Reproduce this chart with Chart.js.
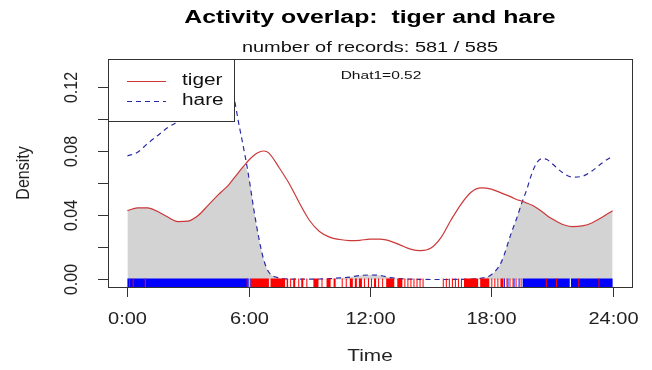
<!DOCTYPE html>
<html>
<head>
<meta charset="utf-8">
<script src="https://cdn.jsdelivr.net/npm/chart.js@4"></script>
<style>
  body { margin: 0; background: #fff; }
  canvas { display: block; }
</style>
</head>
<body>
<canvas id="chart" width="652" height="370"></canvas>
<script>
// time of day (hours) shared by both density curves
const hours = [0, 0.5, 1, 1.5, 2, 2.5, 3, 3.5, 4, 4.5, 4.75, 5, 5.25, 5.5, 5.75, 6, 6.25, 6.5, 6.75, 7, 7.5, 8, 8.5, 9, 9.5, 10, 10.5, 11, 11.5, 12, 12.5, 13, 13.5, 14, 14.5, 15, 15.5, 16, 16.5, 17, 17.5, 18, 18.5, 19, 19.25, 19.5, 19.75, 20, 20.25, 20.5, 20.75, 21, 21.5, 22, 22.5, 23, 23.5, 24];

const tigerDensity = [0.043, 0.0448, 0.0448, 0.0425, 0.039, 0.0362, 0.0365, 0.040, 0.0465, 0.053, 0.056, 0.059, 0.063, 0.067, 0.0708, 0.0745, 0.0775, 0.0795, 0.0803, 0.079, 0.070, 0.060, 0.048, 0.037, 0.030, 0.0265, 0.025, 0.0243, 0.0245, 0.0252, 0.0252, 0.024, 0.0215, 0.019, 0.018, 0.0195, 0.026, 0.037, 0.047, 0.0545, 0.0572, 0.0565, 0.054, 0.0515, 0.050, 0.049, 0.0478, 0.0465, 0.0447, 0.0425, 0.040, 0.038, 0.0345, 0.033, 0.0335, 0.0355, 0.039, 0.043];

const hareDensity = [0.0772, 0.0795, 0.085, 0.090, 0.095, 0.099, 0.106, 0.114, 0.122, 0.1315, 0.1325, 0.129, 0.1155, 0.098, 0.082, 0.0645, 0.044, 0.026, 0.012, 0.0045, 0.001, 0.0003, 0.0002, 0.0002, 0.0003, 0.0005, 0.001, 0.0015, 0.0025, 0.0028, 0.0025, 0.0012, 0.0005, 0.0002, 0.0001, 0, 0, 0, 0.0001, 0.0003, 0.0008, 0.003, 0.011, 0.0295, 0.038, 0.0475, 0.056, 0.066, 0.073, 0.0755, 0.075, 0.0725, 0.067, 0.064, 0.0645, 0.068, 0.073, 0.0772];

const tigerRug = [[0.08, 0.12], [0.26, 0.3], [0.86, 0.92], [5.9, 5.95], [6.1, 7.0], [7.08, 7.8], [7.88, 7.95], [8.05, 8.1], [8.2, 8.3], [8.45, 8.5], [8.6, 8.7], [8.85, 8.9], [9.2, 9.45], [9.6, 9.65], [9.85, 10.05], [10.2, 10.3], [10.6, 10.65], [10.8, 10.85], [11.0, 11.15], [11.25, 11.35], [11.45, 11.6], [11.7, 11.75], [11.9, 11.95], [12.05, 12.1], [12.2, 12.3], [12.4, 12.45], [12.6, 12.65], [12.8, 13.2], [13.35, 13.6], [13.7, 13.75], [13.85, 13.9], [14.0, 14.05], [14.15, 14.2], [14.3, 14.35], [14.45, 14.5], [14.6, 14.65], [15.6, 15.65], [15.75, 15.8], [15.9, 15.95], [16.05, 16.1], [16.2, 16.25], [16.35, 16.4], [16.5, 16.55], [16.65, 17.35], [17.45, 17.9], [18.0, 18.05], [18.15, 18.2], [18.3, 18.35], [18.45, 18.6], [18.75, 18.78], [18.9, 18.93], [19.05, 19.08], [19.2, 19.25], [19.45, 19.48], [20.7, 20.73], [21.2, 21.23], [22.3, 22.33], [23.3, 23.33]];
const hareRug = [[0, 6.0], [6.05, 6.08], [11.9, 11.93], [13.0, 13.03], [17.2, 17.23], [18.62, 18.66], [18.8, 18.83], [19.1, 19.15], [19.35, 19.4], [19.55, 21.88], [21.94, 24.0]];

const xTicks = [0, 6, 12, 18, 24];
const xTickLabels = ['0:00', '6:00', '12:00', '18:00', '24:00'];
const yTicks = [0, 0.02, 0.04, 0.06, 0.08, 0.10, 0.12];
const yTickLabels = ['0.00', '', '0.04', '', '0.08', '', '0.12'];

const seriesNames = ['tiger', 'hare'];
const chartTitle = 'Activity overlap:  tiger and hare';
const subTitle = 'number of records: 581 / 585';
const dhatText = 'Dhat1=0.52';

const TIGER_COL = '#cc3838';
const HARE_COL = '#2a2aa8';
const FONT = '"Liberation Sans", Arial, sans-serif';
const SX = 1.3; // the original picture is stretched sideways

const overlap = hours.map((h, i) => Math.min(tigerDensity[i], hareDensity[i]));
const pts = (arr) => hours.map((h, i) => ({ x: h, y: arr[i] }));

// text helper: wide text like the reference, optional rotation
function txt(ctx, s, x, y, font, opts = {}) {
  ctx.save();
  ctx.font = font;
  ctx.textAlign = opts.align || 'center';
  ctx.textBaseline = 'middle';
  ctx.fillStyle = opts.color || '#222';
  ctx.translate(x, y);
  ctx.scale(opts.sx || SX, 1);
  if (opts.rot) ctx.rotate(opts.rot);
  ctx.fillText(s, 0, 0);
  ctx.restore();
}

// frame, axes, rug, legend and text, drawn R style
const basePlot = {
  id: 'basePlot',
  afterDatasetsDraw(chart) {
    const ctx = chart.ctx;
    const a = chart.chartArea;
    const xs = chart.scales.x;
    const ys = chart.scales.y;

    // rug
    const drawRug = (runs, col) => {
      ctx.fillStyle = col;
      runs.forEach(([s, e]) => {
        const x0 = xs.getPixelForValue(s);
        const x1 = Math.max(xs.getPixelForValue(e), x0 + 1);
        ctx.fillRect(x0, a.bottom - 8.5, x1 - x0, 8.5);
      });
    };
    drawRug(hareRug, '#0000ff');
    drawRug(tigerRug, '#ff0000');

    ctx.save();
    ctx.strokeStyle = '#333';
    ctx.lineWidth = 1;
    ctx.strokeRect(Math.round(a.left) + 0.5, Math.round(a.top) + 0.5, Math.round(a.right - a.left), Math.round(a.bottom - a.top));

    // x axis
    xTicks.forEach((t, i) => {
      const px = Math.round(xs.getPixelForValue(t)) + 0.5;
      ctx.beginPath();
      ctx.moveTo(px, a.bottom);
      ctx.lineTo(px, a.bottom + 10);
      ctx.stroke();
      txt(ctx, xTickLabels[i], px, 320, '16px ' + FONT, { sx: 1.25 });
    });
    txt(ctx, 'Time', (a.left + a.right) / 2, 357, '16px ' + FONT, { sx: 1.3 });

    // y axis
    yTicks.forEach((t, i) => {
      const py = Math.round(ys.getPixelForValue(t)) + 0.5;
      ctx.beginPath();
      ctx.moveTo(a.left, py);
      ctx.lineTo(a.left - 10, py);
      ctx.stroke();
      if (yTickLabels[i]) {
        txt(ctx, yTickLabels[i], 72, py, '16px ' + FONT, { rot: -Math.PI / 2, sx: 1.2 });
      }
    });
    txt(ctx, 'Density', 24, (a.top + a.bottom) / 2, '16px ' + FONT, { rot: -Math.PI / 2, sx: 1.2 });

    // titles
    const cx = (a.left + a.right) / 2;
    txt(ctx, chartTitle, cx, 18, 'bold 18px ' + FONT, { sx: 1.38, color: '#000' });
    txt(ctx, subTitle, cx, 48, '15px ' + FONT, { sx: 1.33, color: '#111' });
    txt(ctx, dhatText, 381, 76, '11.5px ' + FONT, { sx: 1.35, color: '#111' });

    // legend box
    ctx.fillStyle = '#fff';
    ctx.fillRect(a.left, a.top, 126, 62);
    ctx.strokeRect(Math.round(a.left) + 0.5, Math.round(a.top) + 0.5, 126, 62);
    const rows = [[TIGER_COL, []], [HARE_COL, [5, 4]]];
    rows.forEach(([col, dash], i) => {
      const ly = a.top + 22 + i * 20;
      ctx.strokeStyle = col;
      ctx.setLineDash(dash);
      ctx.beginPath();
      ctx.moveTo(a.left + 19, ly + 0.5);
      ctx.lineTo(a.left + 58, ly + 0.5);
      ctx.stroke();
      ctx.setLineDash([]);
      txt(ctx, seriesNames[i], a.left + 74, ly, '16px ' + FONT, { align: 'left', sx: 1.3, color: '#111' });
    });
    ctx.restore();
  }
};

new Chart(document.getElementById('chart'), {
  type: 'line',
  data: {
    datasets: [
      {
        label: seriesNames[0],
        data: pts(tigerDensity),
        borderColor: TIGER_COL,
        borderWidth: 1.2,
        pointRadius: 0,
        fill: false,
        cubicInterpolationMode: 'monotone'
      },
      {
        label: seriesNames[1],
        data: pts(hareDensity),
        borderColor: HARE_COL,
        borderWidth: 1.2,
        borderDash: [5, 4],
        pointRadius: 0,
        fill: false,
        cubicInterpolationMode: 'monotone'
      },
      {
        label: 'overlap',
        data: pts(overlap),
        borderWidth: 0,
        borderColor: 'rgba(0,0,0,0)',
        backgroundColor: '#d3d3d3',
        pointRadius: 0,
        fill: 'origin',
        cubicInterpolationMode: 'monotone'
      }
    ]
  },
  options: {
    responsive: false,
    animation: false,
    devicePixelRatio: 1,
    layout: { padding: { left: 108, top: 59, right: 20, bottom: 83 } },
    scales: {
      x: { type: 'linear', min: -0.96, max: 24.96, display: false },
      y: { min: -0.0047, max: 0.1378, display: false }
    },
    plugins: {
      legend: { display: false },
      tooltip: { enabled: false },
      title: { display: false }
    }
  },
  plugins: [basePlot]
});
</script>
</body>
</html>
